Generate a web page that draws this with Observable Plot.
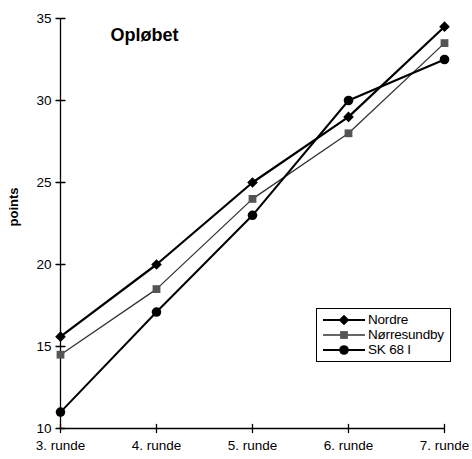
<!DOCTYPE html>
<html><head><meta charset="utf-8">
<script src="https://cdn.jsdelivr.net/npm/d3@7"></script>
<script src="https://cdn.jsdelivr.net/npm/@observablehq/plot@0.6"></script>
<style>
body{margin:0;background:#fff;font-family:"Liberation Sans",Arial,sans-serif;}
#wrap{position:relative;width:472px;height:459px;}
#legend{position:absolute;left:316px;top:308px;width:135px;height:54px;border:1px solid #000;box-sizing:border-box;background:#fff;padding:3px 0 0 4px;}
.row{display:flex;align-items:center;height:15px;font-size:13.5px;color:#000;letter-spacing:-0.2px;}
.row svg{margin-right:2px;}
</style></head>
<body><div id="wrap"></div>
<script>
const rounds = ["3. runde", "4. runde", "5. runde", "6. runde", "7. runde"];
const nordre = [15.6, 20, 25, 29, 34.5];
const norresundby = [14.5, 18.5, 24, 28, 33.5];
const sk68 = [11, 17.1, 23, 30, 32.5];
const yTicks = [10, 15, 20, 25, 30, 35];
const seriesNames = ["Nordre", "Nørresundby", "SK 68 I"];
const seriesValues = [nordre, norresundby, sk68];

const styles = {
  "Nordre": {stroke: "#000", width: 2.2, symbol: "diamond2", fill: "#000", r: 4.8},
  "Nørresundby": {stroke: "#333", width: 1.3, symbol: "square", fill: "#555", r: 4.4},
  "SK 68 I": {stroke: "#000", width: 2, symbol: "circle", fill: "#000", r: 4.8}
};

const table = seriesNames.flatMap((s, i) => rounds.map((r, j) => ({series: s, round: r, value: seriesValues[i][j]})));

const tickShape = {draw(ctx, l) { ctx.moveTo(0, 0); ctx.lineTo(0, -l); }};

const marks = [
  Plot.ruleX([rounds[0]], {stroke: "#000", strokeWidth: 1.3}),
  Plot.ruleY([yTicks[0]], {stroke: "#000", strokeWidth: 1.3}),
  Plot.vector(yTicks, {x: () => rounds[0], y: d => d, length: 9, rotate: 90, anchor: "middle", shape: tickShape, stroke: "#000", strokeWidth: 1.3}),
  Plot.vector(rounds, {x: d => d, y: () => yTicks[0], length: 8, rotate: 0, anchor: "middle", shape: tickShape, stroke: "#000", strokeWidth: 1.3}),
  Plot.axisY(yTicks, {tickSize: 0, tickPadding: 9, fontSize: 13.5, label: null}),
  Plot.axisX(rounds, {tickSize: 0, tickPadding: 12, fontSize: 13.5, label: null}),
  Plot.text(["points"], {frameAnchor: "left", rotate: -90, dx: -47, dy: 3, fontWeight: "bold", fontSize: 13}),
  Plot.text(["Opløbet"], {frameAnchor: "top-left", dx: 50, dy: 10, fontWeight: "bold", fontSize: 18, textAnchor: "start", lineAnchor: "top"})
];
for (const s of seriesNames) {
  const st = styles[s];
  const d = table.filter(t => t.series === s);
  marks.push(Plot.line(d, {x: "round", y: "value", stroke: st.stroke, strokeWidth: st.width}));
}
for (const s of seriesNames) {
  const st = styles[s];
  const d = table.filter(t => t.series === s);
  marks.push(Plot.dot(d, {x: "round", y: "value", symbol: () => st.symbol, fill: st.fill, stroke: "none", r: st.r}));
}

const chart = Plot.plot({
  width: 472, height: 459,
  marginLeft: 60, marginRight: 28, marginTop: 18, marginBottom: 31,
  style: {fontFamily: "Liberation Sans, Arial, sans-serif", fontSize: "13px", color: "#000", background: "#fff"},
  x: {type: "point", domain: rounds, padding: 0, label: null},
  y: {domain: [yTicks[0], yTicks[yTicks.length - 1]], label: null},
  symbol: {type: "identity"},
  marks
});
const wrap = document.getElementById("wrap");
wrap.appendChild(chart);

// legend
const leg = document.createElement("div");
leg.id = "legend";
const symPath = {diamond2: d3.symbolDiamond2, square: d3.symbolSquare, circle: d3.symbolCircle};
for (const s of seriesNames) {
  const st = styles[s];
  const row = document.createElement("div");
  row.className = "row";
  const svg = d3.create("svg").attr("width", 45).attr("height", 14);
  svg.append("line").attr("x1", 2).attr("x2", 44).attr("y1", 7).attr("y2", 7).attr("stroke", st.stroke).attr("stroke-width", st.width);
  const area = Math.PI * st.r * st.r;
  svg.append("path").attr("d", d3.symbol(symPath[st.symbol], area)()).attr("transform", "translate(23,7)").attr("fill", st.fill);
  row.appendChild(svg.node());
  const span = document.createElement("span");
  span.textContent = s;
  row.appendChild(span);
  leg.appendChild(row);
}
wrap.appendChild(leg);
</script>
</body></html>
